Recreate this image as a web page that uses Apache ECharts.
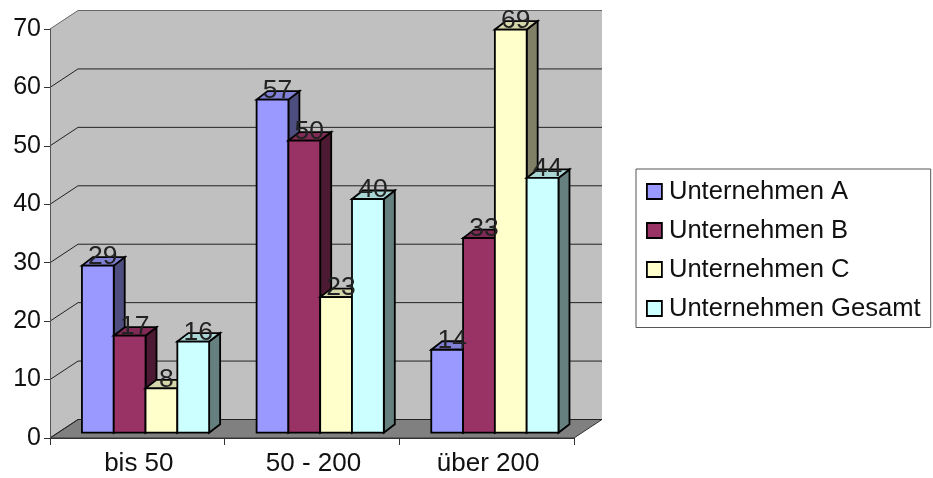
<!DOCTYPE html>
<html><head><meta charset="utf-8">
<style>html,body{margin:0;padding:0;background:#fff}#c{width:933px;height:478px}</style>
<script src="https://cdn.jsdelivr.net/npm/echarts@6/dist/echarts.min.js"></script>
</head><body><div id="c"></div>
<script>
const categories = ['bis 50', '50 - 200', 'über 200'];
const unternehmenA = [28.6, 57, 14.2];
const unternehmenB = [16.6, 50, 33.3];
const unternehmenC = [7.6, 23.2, 69];
const unternehmenGesamt = [15.6, 40, 43.6];
const seriesNames = ['Unternehmen A', 'Unternehmen B', 'Unternehmen C', 'Unternehmen Gesamt'];
const yTicks = [0, 10, 20, 30, 40, 50, 60, 70];

const WALL_DX = 28, WALL_DY = 18.5;      // depth of the 3D box
const BAR_DX = 8.2, BAR_DY = 5.3;        // bars stand slightly inside the floor
const SIDE_DX = 11, SIDE_DY = 8.5;       // depth of a bar
const BAR_W = 31.8;
const FONT = '"Liberation Sans", Arial, sans-serif';
const TEXT = '#111';

function wallItem(params, api) {
  const cs = params.coordSys;
  const y = api.coord([0, api.value(1)])[1];
  const x0 = cs.x, x1 = cs.x + cs.width, y0 = cs.y + cs.height, y1 = cs.y;
  const children = [];
  if (params.dataIndex === 0) {
    children.push({type:'polygon', shape:{points:[[x0,y0],[x0,y1],[x0+WALL_DX,y1-WALL_DY],[x1+WALL_DX,y1-WALL_DY],[x1+WALL_DX,y0-WALL_DY],[x0+WALL_DX,y0-WALL_DY]]}, style:{fill:'#c0c0c0'}});
    children.push({type:'polygon', shape:{points:[[x0,y0],[x1,y0],[x1+WALL_DX,y0-WALL_DY],[x0+WALL_DX,y0-WALL_DY]]}, style:{fill:'#808080', stroke:'#333', lineWidth:1}});
  }
  const top = api.value(1) === yTicks[yTicks.length - 1];
  children.push({type:'polyline', shape:{points:[[x0,y],[x0+WALL_DX,y-WALL_DY],[x1+WALL_DX,y-WALL_DY]]}, style:{fill:null, stroke: top ? '#666' : '#222', lineWidth:1}});
  return {type:'group', children};
}

function barRenderer(seriesIndex, front, side, roof) {
  return function (params, api) {
    const c = api.coord([api.value(0), api.value(1)]);
    const base = api.coord([api.value(0), 0])[1] - BAR_DY;
    const l = c[0] + BAR_DX - 2 * BAR_W + seriesIndex * BAR_W;
    const r = l + BAR_W;
    const t = c[1] - BAR_DY;
    const line = {stroke:'#000', lineWidth:1.8, lineJoin:'miter'};
    return {type:'group', children:[
      {type:'polygon', shape:{points:[[r,base],[r+SIDE_DX,base-SIDE_DY],[r+SIDE_DX,t-SIDE_DY],[r,t]]}, style:Object.assign({fill:side}, line)},
      {type:'polygon', shape:{points:[[l,t],[l+SIDE_DX,t-SIDE_DY],[r+SIDE_DX,t-SIDE_DY],[r,t]]}, style:Object.assign({fill:roof}, line)},
      {type:'rect', shape:{x:l, y:t, width:BAR_W, height:base-t}, style:Object.assign({fill:front}, line)},
      {type:'text', z2:100, style:{x:(l+r)/2+5, y:t-9, text:String(Math.round(api.value(1))), align:'center', verticalAlign:'middle', font:'26.5px '+FONT, fill:'#222'}}
    ]};
  };
}

const palette = [
  {front:'#9999ff', side:'#4d4d80', roof:'#8080d6'},
  {front:'#993366', side:'#4d1a33', roof:'#802b55'},
  {front:'#ffffcc', side:'#808066', roof:'#d6d6ab'},
  {front:'#ccffff', side:'#668080', roof:'#abd6d6'}
];
const values = [unternehmenA, unternehmenB, unternehmenC, unternehmenGesamt];

const chart = echarts.init(document.getElementById('c'), null, {renderer:'canvas'});
chart.setOption({
  animation:false,
  backgroundColor:'#fff',
  grid:{left:50, top:29, width:524, height:409, containLabel:false},
  xAxis:{type:'category', data:categories, z:10,
    axisLine:{lineStyle:{color:'#333', width:1}},
    axisTick:{show:true, length:7, lineStyle:{color:'#333'}},
    axisLabel:{color:TEXT, fontFamily:FONT, fontSize:26, margin:13, padding:[0,0,0,3]}},
  yAxis:{type:'value', min:0, max:70, interval:10, z:10,
    axisLine:{show:true, lineStyle:{color:'#555', width:1}},
    axisTick:{show:true, length:6, lineStyle:{color:'#333'}},
    splitLine:{show:false},
    axisLabel:{color:TEXT, fontFamily:FONT, fontSize:25, margin:9}},
  legend:{orient:'vertical', left:636, top:169, data:seriesNames, icon:'rect',
    itemWidth:15, itemHeight:15, itemGap:13,
    padding:[9.5,10,6,10],
    borderColor:'#555', borderWidth:1, backgroundColor:'#fff',
    itemStyle:{borderColor:'#000', borderWidth:1.8},
    selectedMode:false,
    textStyle:{color:TEXT, fontFamily:FONT, fontSize:25.6, lineHeight:16, padding:[0,0,6,2]}},
  series:[
    {type:'custom', name:'wall', silent:true, coordinateSystem:'cartesian2d',
     data:yTicks.map(t => [0, t]), renderItem:wallItem, encode:{x:0, y:1}}
  ].concat(seriesNames.map((name, i) => ({
    type:'custom', name, coordinateSystem:'cartesian2d',
    itemStyle:{color:palette[i].front},
    data:values[i].map((v, j) => [j, v]),
    encode:{x:0, y:1},
    renderItem:barRenderer(i, palette[i].front, palette[i].side, palette[i].roof)
  })))
});
</script></body></html>
